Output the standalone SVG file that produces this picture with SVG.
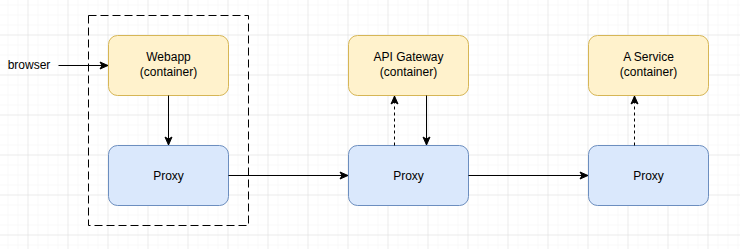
<svg xmlns="http://www.w3.org/2000/svg" width="740" height="249" viewBox="0 0 740 249">
<defs>
<pattern id="minor" x="-1.5" y="-4.5" width="10" height="10" patternUnits="userSpaceOnUse">
<path d="M10 0V10M0 10H10" fill="none" stroke="#f2f2f2" stroke-width="1"/>
</pattern>
<pattern id="major" x="-11.5" y="-4.5" width="40" height="40" patternUnits="userSpaceOnUse">
<path d="M40 0V40M0 40H40" fill="none" stroke="#dedede" stroke-width="1"/>
</pattern>
<marker id="arr" markerWidth="10" markerHeight="10" refX="9" refY="5" orient="auto" markerUnits="userSpaceOnUse">
<path d="M1 1.5L9 5L1 8.5L3 5Z" fill="#000" stroke="#000" stroke-width="1"/>
</marker>
</defs>
<style>
.yel{fill:#fff2cc;stroke:#d6b656;stroke-width:1}
.blu{fill:#dae8fc;stroke:#6c8ebf;stroke-width:1}
.t{font-family:"Liberation Sans",Arial,sans-serif;font-size:12px;fill:#000;text-anchor:middle}
.e{fill:none;stroke:#000;stroke-width:1;marker-end:url(#arr)}
.d{stroke-dasharray:3 3}
</style>
<rect width="740" height="249" fill="#fff"/>
<rect width="740" height="249" fill="url(#minor)"/>
<rect width="740" height="249" fill="url(#major)"/>
<g id="group-box">
<rect x="88.5" y="15.5" width="160" height="210" fill="none" stroke="#000" stroke-width="1" stroke-dasharray="8 4"/>
</g>
<g id="browser">
<text class="t" x="29" y="69">browser</text>
</g>
<g id="webapp">
<rect class="yel" x="108.5" y="35.5" width="120" height="60" rx="9"/>
<text class="t" x="168.5" y="61">Webapp</text>
<text class="t" x="168.5" y="76">(container)</text>
</g>
<g id="proxy1">
<rect class="blu" x="108.5" y="145.5" width="120" height="60" rx="9"/>
<text class="t" x="168.5" y="180">Proxy</text>
</g>
<g id="apigw">
<rect class="yel" x="348.5" y="35.5" width="120" height="60" rx="9"/>
<text class="t" x="408.5" y="61">API Gateway</text>
<text class="t" x="408.5" y="76">(container)</text>
</g>
<g id="proxy2">
<rect class="blu" x="348.5" y="145.5" width="120" height="60" rx="9"/>
<text class="t" x="408.5" y="180">Proxy</text>
</g>
<g id="aservice">
<rect class="yel" x="588.5" y="35.5" width="120" height="60" rx="9"/>
<text class="t" x="648.5" y="61">A Service</text>
<text class="t" x="648.5" y="76">(container)</text>
</g>
<g id="proxy3">
<rect class="blu" x="588.5" y="145.5" width="120" height="60" rx="9"/>
<text class="t" x="648.5" y="180">Proxy</text>
</g>
<g id="connectors">
<path class="e" d="M58.5 65.5H108"/>
<path class="e" d="M168.5 95.5V145"/>
<path class="e" d="M228.5 175.5H348"/>
<path class="e d" d="M394.5 145.5V96"/>
<path class="e" d="M426.5 95.5V145"/>
<path class="e" d="M468.5 175.5H588"/>
<path class="e d" d="M634.5 145.5V96"/>
</g>
</svg>
